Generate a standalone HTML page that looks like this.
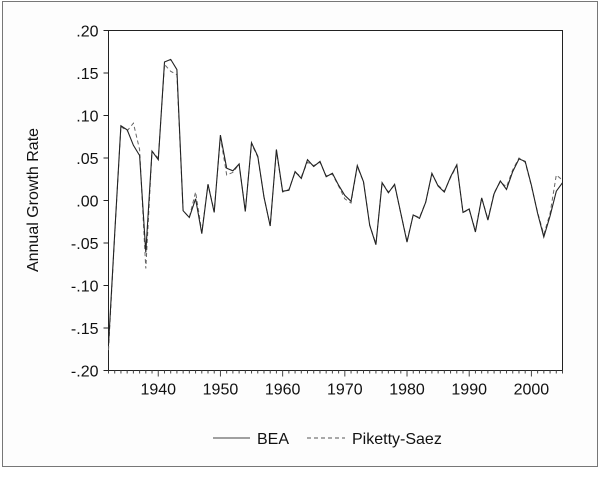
<!DOCTYPE html>
<html><head><meta charset="utf-8"><style>
html,body{margin:0;padding:0;background:#fff;}
svg{display:block;font-family:"Liberation Sans",Arial,sans-serif;}
</style></head><body>
<svg width="600" height="482" viewBox="0 0 600 482">
<rect x="2.5" y="1.5" width="595" height="465" fill="#fdfdfd" stroke="#777" stroke-width="1"/>
<g id="axes"></g>
<g id="series"></g>
<text x="0" y="0" transform="translate(38,200) rotate(-90)" text-anchor="middle" font-size="16" fill="#111">Annual Growth Rate</text>
<g>
<g>
<line x1="213" y1="438" x2="250" y2="438" stroke="#444" stroke-width="1"/>
<text x="257" y="444" font-size="16" fill="#111">BEA</text></g>
<g>
<line x1="307" y1="438" x2="345" y2="438" stroke="#555" stroke-width="1" stroke-dasharray="4,3"/>
<text x="352" y="444" font-size="16" fill="#111">Piketty-Saez</text></g>
</g>
</svg>
<script>
const years = [];
for (let y = 1932; y <= 2005; y++) years.push(y);
const bea = [-0.170,-0.039,0.088,0.083,0.065,0.053,-0.061,0.058,0.048,0.163,0.166,0.154,-0.012,-0.020,0.002,-0.039,0.019,-0.014,0.077,0.038,0.035,0.043,-0.013,0.068,0.052,0.004,-0.030,0.060,0.011,0.012,0.034,0.026,0.048,0.040,0.046,0.028,0.032,0.018,0.006,-0.001,0.041,0.022,-0.029,-0.052,0.021,0.009,0.019,-0.015,-0.049,-0.017,-0.021,-0.002,0.032,0.017,0.010,0.028,0.042,-0.014,-0.010,-0.037,0.003,-0.023,0.008,0.023,0.013,0.034,0.049,0.046,0.018,-0.015,-0.043,-0.018,0.011,0.021];
const piketty = [-0.176,-0.040,0.087,0.082,0.091,0.060,-0.080,0.058,0.050,0.160,0.152,0.148,-0.012,-0.020,0.010,-0.037,0.019,-0.013,0.075,0.030,0.033,0.043,-0.012,0.067,0.051,0.004,-0.030,0.059,0.010,0.013,0.033,0.028,0.045,0.041,0.045,0.029,0.031,0.017,0.002,-0.003,0.040,0.022,-0.029,-0.051,0.021,0.010,0.018,-0.015,-0.048,-0.017,-0.020,-0.002,0.031,0.018,0.011,0.027,0.041,-0.014,-0.011,-0.035,0.003,-0.022,0.009,0.022,0.016,0.036,0.050,0.045,0.017,-0.014,-0.040,-0.015,0.030,0.024];
const yTicks = [0.20,0.15,0.10,0.05,0.00,-0.05,-0.10,-0.15,-0.20];
const yTickLabels = [".20",".15",".10",".05",".00","-.05","-.10","-.15","-.20"];
const xTicks = [1940,1950,1960,1970,1980,1990,2000];

const NS = "http://www.w3.org/2000/svg";
const L = 108.5, R = 562.5, T = 30.5, B = 370.5;
const X = y => L + (y - 1932) / (2005 - 1932) * (R - L);
const Y = v => T + (0.20 - v) / 0.40 * (B - T);
function mk(tag, attrs, parent) { const e = document.createElementNS(NS, tag); for (const k in attrs) e.setAttribute(k, attrs[k]); parent.appendChild(e); return e; }
const axes = document.getElementById('axes');
const frame = mk('rect', {x:L, y:T, width:R-L, height:B-T, fill:'#fff', stroke:'#222', 'stroke-width':1}, axes);


yTicks.forEach((v, i) => {
  const ln = mk('line', {x1:L-5, x2:L, y1:Y(v), y2:Y(v), stroke:'#222'}, axes);
  
  
  const t = mk('text', {x:L-10, y:Y(v)+6, 'text-anchor':'end', 'font-size':16, fill:'#111'}, axes);
  t.textContent = yTickLabels[i];
  
  
});
for (let y = 1932; y <= 2005; y++) {
  const major = y % 10 === 0;
  const ln = mk('line', {x1:X(y), x2:X(y), y1:B, y2:B+(major?6:3), stroke:'#444'}, axes);
  
  
}
xTicks.forEach(y => {
  const t = mk('text', {x:X(y), y:B+24, 'text-anchor':'middle', 'font-size':16, fill:'#111'}, axes);
  t.textContent = y;
  
  
});
const series = document.getElementById('series');
const pts = arr => arr.map((v, i) => X(years[i]).toFixed(1) + ',' + Y(v).toFixed(1)).join(' ');
const ps = mk('polyline', {points:pts(piketty), fill:'none', stroke:'#666', 'stroke-width':1, 'stroke-dasharray':'4,3'}, series);


const be = mk('polyline', {points:pts(bea), fill:'none', stroke:'#222', 'stroke-width':1.1}, series);


</script>
</body></html>
